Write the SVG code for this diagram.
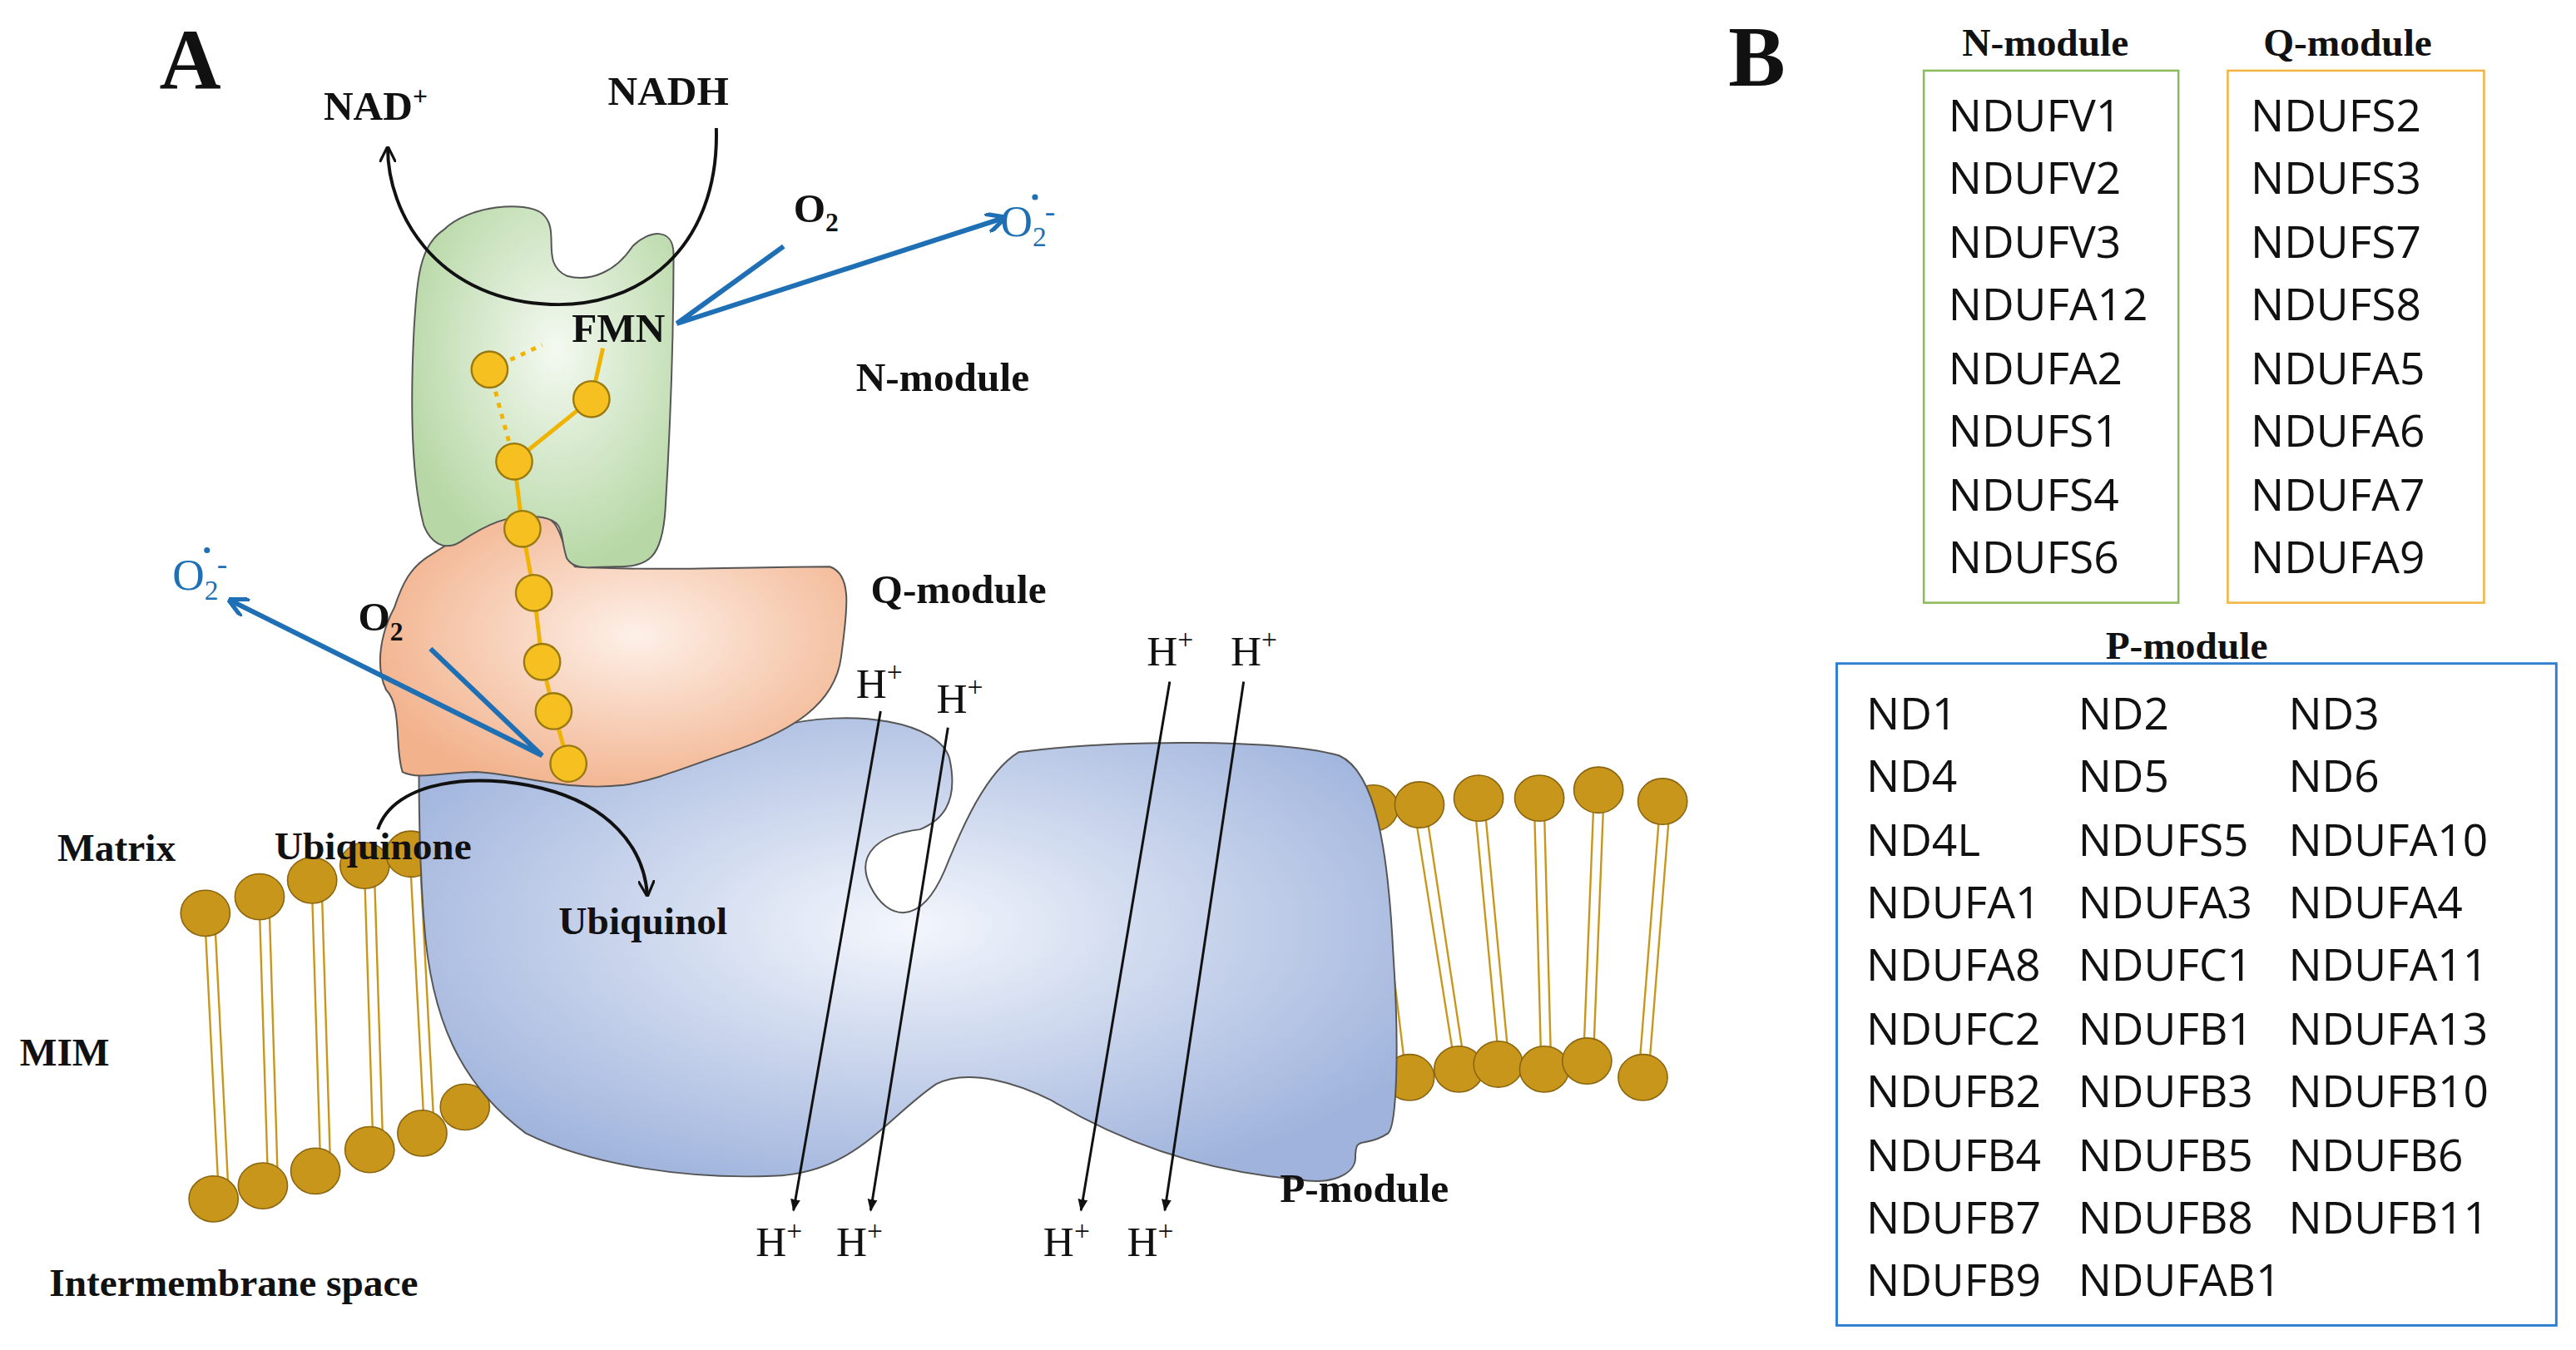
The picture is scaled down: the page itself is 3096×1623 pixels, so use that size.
<svg xmlns="http://www.w3.org/2000/svg" width="3096" height="1623" viewBox="0 0 3096 1623">
<style>
.sr{font-family:"Liberation Serif",serif;fill:#111}
.b{font-weight:bold}
.sn{font-family:"Open Sans","Liberation Sans",sans-serif;font-size:27px;fill:#111}
.bl{fill:#1f6fb5}
.head{fill:#c8961a;stroke:#8a6510;stroke-width:0.8}
.tail{stroke:#c8961a;stroke-width:1.2;fill:none}
.fe{fill:#f5c020;stroke:#9a7a10;stroke-width:1.2}
</style>
<defs>
<radialGradient id="gN" cx="0.55" cy="0.4" r="0.6"><stop offset="0" stop-color="#f4f9f1"/><stop offset="1" stop-color="#b7d8a6"/></radialGradient>
<radialGradient id="gQ" cx="0.55" cy="0.45" r="0.6"><stop offset="0" stop-color="#fdf0e8"/><stop offset="1" stop-color="#f2b28c"/></radialGradient>
<radialGradient id="gP" cx="0.5" cy="0.45" r="0.6"><stop offset="0" stop-color="#f3f6fc"/><stop offset="1" stop-color="#9fb3dc"/></radialGradient>
<marker id="ak" viewBox="0 0 10 10" refX="9" refY="5" markerWidth="5" markerHeight="5" orient="auto"><path d="M0,0 L10,5 L0,10" fill="none" stroke="#111" stroke-width="1.6"/></marker>
<marker id="af" viewBox="0 0 10 10" refX="9" refY="5" markerWidth="5" markerHeight="5" orient="auto"><path d="M0,1 L10,5 L0,9 Z" fill="#111"/></marker>
<marker id="ab" viewBox="0 0 10 10" refX="8" refY="5" markerWidth="4" markerHeight="4" orient="auto"><path d="M0,0 L10,5 L0,10" fill="none" stroke="#1f6fb5" stroke-width="2.2"/></marker>
</defs>
<rect width="3096" height="1623" fill="#fff"/>
<g transform="scale(1.9745)">
<text class="sr b" x="97" y="54" font-size="52">A</text>
<text class="sr b" x="1052" y="52" font-size="52">B</text>

<g id="membrane-left">
<g class="tail">
<path d="M125,565 L133,725 M131,565 L139,725 M158,555 L163,716 M164,555 L169,716 M190,545 L195,707 M196,545 L201,707 M222,535 L227,695 M228,535 L233,695 M250,530 L258,683 M256,530 L264,683"/>
</g>
<ellipse class="head" cx="125" cy="556" rx="15" ry="14"/><ellipse class="head" cx="158" cy="546" rx="15" ry="14"/><ellipse class="head" cx="190" cy="536" rx="15" ry="14"/><ellipse class="head" cx="222" cy="527" rx="15" ry="14"/><ellipse class="head" cx="250" cy="520" rx="15" ry="14"/>
<ellipse class="head" cx="130" cy="730" rx="15" ry="14"/><ellipse class="head" cx="160" cy="722" rx="15" ry="14"/><ellipse class="head" cx="192" cy="713" rx="15" ry="14"/><ellipse class="head" cx="225" cy="700" rx="15" ry="14"/><ellipse class="head" cx="257" cy="690" rx="15" ry="14"/><ellipse class="head" cx="283" cy="674" rx="15" ry="14"/>
</g>
<g id="membrane-right">
<g class="tail">
<path d="M837,500 L855,648 M862,500 L885,645 M869,500 L891,645 M898,494 L912,642 M904,494 L918,642 M934,494 L938,644 M940,494 L944,644 M970,490 L964,641 M976,490 L970,641 M1010,496 L998,648 M1016,496 L1004,648"/>
</g>
<ellipse class="head" cx="836" cy="492" rx="15" ry="14"/><ellipse class="head" cx="864" cy="490" rx="15" ry="14"/><ellipse class="head" cx="900" cy="486" rx="15" ry="14"/><ellipse class="head" cx="937" cy="486" rx="15" ry="14"/><ellipse class="head" cx="973" cy="481" rx="15" ry="14"/><ellipse class="head" cx="1012" cy="488" rx="15" ry="14"/>
<ellipse class="head" cx="858" cy="656" rx="15" ry="14"/><ellipse class="head" cx="888" cy="651" rx="15" ry="14"/><ellipse class="head" cx="912" cy="648" rx="15" ry="14"/><ellipse class="head" cx="940" cy="651" rx="15" ry="14"/><ellipse class="head" cx="966" cy="646" rx="15" ry="14"/><ellipse class="head" cx="1000" cy="656" rx="15" ry="14"/>
</g>

<g id="p-module">
<path d="M255,468 C300,455 420,458 470,443 C520,430 572,440 578,462 C584,490 572,500 560,505 C535,508 520,520 530,540 C540,560 560,565 575,530 C585,505 600,470 620,458 C680,450 780,450 815,460 C838,470 845,520 848,580 C852,640 850,685 845,690 C830,700 825,690 825,705 C825,715 810,722 790,718 C740,714 690,700 640,670 C620,660 590,650 570,660 C540,680 520,715 470,716 C420,718 360,710 320,690 C280,660 262,620 258,560 C255,520 255,490 255,468 Z" fill="url(#gP)" stroke="#555" stroke-width="1"/>
</g>
<g id="q-module">
<path d="M262,338 C290,320 310,310 325,312 C345,315 340,335 350,345 C400,348 460,345 505,345 C520,350 515,375 512,400 C508,430 480,445 450,456 C420,466 400,475 380,478 C345,482 320,472 290,470 C270,470 255,475 245,470 C240,455 245,430 235,420 C228,405 232,385 240,370 C245,355 250,345 262,338 Z" fill="url(#gQ)" stroke="#555" stroke-width="1"/>
</g>
<g id="n-module">
<path d="M258,320 C250,290 250,240 252,200 C254,170 255,150 270,140 C285,125 320,122 330,130 C342,140 328,160 345,168 C360,172 375,165 385,150 C395,140 410,138 410,155 C410,200 408,260 405,310 C403,340 395,345 375,345 C360,345 350,348 345,340 C340,325 345,318 330,315 C310,312 295,320 280,330 C270,336 262,330 258,320 Z" fill="url(#gN)" stroke="#555" stroke-width="1"/>
</g>

<g id="fes-chain">
<path d="M367,212 L360,243 L313,281 L318,322 L325,361 L330,403 L337,433 L346,465" stroke="#f0b400" stroke-width="2.5" fill="none"/>
<path d="M298,225 L330,210 M298,225 L313,281" stroke="#f0b400" stroke-width="2.5" stroke-dasharray="3,4" fill="none"/>
<circle class="fe" cx="298" cy="225" r="11"/><circle class="fe" cx="360" cy="243" r="11"/><circle class="fe" cx="313" cy="281" r="11"/><circle class="fe" cx="318" cy="322" r="11"/><circle class="fe" cx="325" cy="361" r="11"/><circle class="fe" cx="330" cy="403" r="11"/><circle class="fe" cx="337" cy="433" r="11"/><circle class="fe" cx="346" cy="465" r="11"/>
</g>

<g id="connectors" fill="none">
<path d="M436,78 C438,150 390,190 330,185 C265,180 236,130 236,90" stroke="#111" stroke-width="2" marker-end="url(#ak)"/>
<path d="M230,505 C240,475 290,470 330,480 C370,490 392,515 394,545" stroke="#111" stroke-width="2" marker-end="url(#ak)"/>
<path d="M477,150 L412,197 L610,133" stroke="#1f6fb5" stroke-width="3" marker-end="url(#ab)"/>
<path d="M262,395 L330,460 L141,366" stroke="#1f6fb5" stroke-width="3" marker-end="url(#ab)"/>
<g stroke="#111" stroke-width="1.5">
<path d="M536,433 L483,737" marker-end="url(#af)"/>
<path d="M577,443 L530,737" marker-end="url(#af)"/>
<path d="M712,415 L658,737" marker-end="url(#af)"/>
<path d="M757,415 L709,737" marker-end="url(#af)"/>
</g>
</g>

<g id="labels-a">
<text class="sr b" x="197" y="73" font-size="25">NAD<tspan font-size="16" dy="-9">+</tspan></text>
<text class="sr b" x="370" y="64" font-size="25">NADH</text>
<text class="sr b" x="348" y="208" font-size="25">FMN</text>
<text class="sr b" x="483" y="135" font-size="25">O<tspan font-size="16" dy="6">2</tspan></text>
<text class="sr bl" x="609" y="144" font-size="27">O<tspan font-size="17" dy="6">2</tspan><tspan font-size="19" dx="-1" dy="-15">-</tspan></text>
<circle class="bl" cx="630" cy="120" r="1.8"/>
<text class="sr b" x="218" y="384" font-size="25">O<tspan font-size="16" dy="6">2</tspan></text>
<text class="sr bl" x="105" y="359" font-size="27">O<tspan font-size="17" dy="6">2</tspan><tspan font-size="19" dx="-1" dy="-15">-</tspan></text>
<circle class="bl" cx="126" cy="335" r="1.8"/>
<text class="sr b" x="521" y="238" font-size="25">N-module</text>
<text class="sr b" x="530" y="367" font-size="25">Q-module</text>
<text class="sr b" x="779" y="732" font-size="25">P-module</text>
<text class="sr b" x="35" y="524" font-size="24">Matrix</text>
<text class="sr b" x="167" y="523" font-size="24">Ubiquinone</text>
<text class="sr b" x="340" y="569" font-size="24">Ubiquinol</text>
<text class="sr b" x="12" y="649" font-size="24">MIM</text>
<text class="sr b" x="30" y="789" font-size="24">Intermembrane space</text>
<g font-size="26">
<text class="sr" x="521" y="425">H<tspan font-size="17" dy="-10">+</tspan></text>
<text class="sr" x="570" y="434">H<tspan font-size="17" dy="-10">+</tspan></text>
<text class="sr" x="698" y="405">H<tspan font-size="17" dy="-10">+</tspan></text>
<text class="sr" x="749" y="405">H<tspan font-size="17" dy="-10">+</tspan></text>
<text class="sr" x="460" y="765">H<tspan font-size="17" dy="-10">+</tspan></text>
<text class="sr" x="509" y="765">H<tspan font-size="17" dy="-10">+</tspan></text>
<text class="sr" x="635" y="765">H<tspan font-size="17" dy="-10">+</tspan></text>
<text class="sr" x="686" y="765">H<tspan font-size="17" dy="-10">+</tspan></text>
</g>
</g>

<g id="n-box">
<text class="sr b" x="1245" y="34" font-size="24" text-anchor="middle">N-module</text>
<rect x="1171" y="43" width="155" height="324" fill="none" stroke="#8dbb5c" stroke-width="1.3"/>
<text class="sn" x="1186" y="80">NDUFV1</text><text class="sn" x="1186" y="118">NDUFV2</text><text class="sn" x="1186" y="157">NDUFV3</text><text class="sn" x="1186" y="195">NDUFA12</text><text class="sn" x="1186" y="234">NDUFA2</text><text class="sn" x="1186" y="272">NDUFS1</text><text class="sn" x="1186" y="311">NDUFS4</text><text class="sn" x="1186" y="349">NDUFS6</text>
</g>
<g id="q-box">
<text class="sr b" x="1429" y="34" font-size="24" text-anchor="middle">Q-module</text>
<rect x="1356" y="43" width="156" height="324" fill="none" stroke="#f2b445" stroke-width="1.3"/>
<text class="sn" x="1370" y="80">NDUFS2</text><text class="sn" x="1370" y="118">NDUFS3</text><text class="sn" x="1370" y="157">NDUFS7</text><text class="sn" x="1370" y="195">NDUFS8</text><text class="sn" x="1370" y="234">NDUFA5</text><text class="sn" x="1370" y="272">NDUFA6</text><text class="sn" x="1370" y="311">NDUFA7</text><text class="sn" x="1370" y="349">NDUFA9</text>
</g>
<g id="p-box">
<text class="sr b" x="1331" y="401" font-size="24" text-anchor="middle">P-module</text>
<rect x="1118" y="404" width="438" height="403" fill="none" stroke="#2f7fd0" stroke-width="1.5"/>
<g class="sn">
<text x="1136" y="444">ND1</text><text x="1265" y="444">ND2</text><text x="1393" y="444">ND3</text>
<text x="1136" y="482">ND4</text><text x="1265" y="482">ND5</text><text x="1393" y="482">ND6</text>
<text x="1136" y="521">ND4L</text><text x="1265" y="521">NDUFS5</text><text x="1393" y="521">NDUFA10</text>
<text x="1136" y="559">NDUFA1</text><text x="1265" y="559">NDUFA3</text><text x="1393" y="559">NDUFA4</text>
<text x="1136" y="597">NDUFA8</text><text x="1265" y="597">NDUFC1</text><text x="1393" y="597">NDUFA11</text>
<text x="1136" y="636">NDUFC2</text><text x="1265" y="636">NDUFB1</text><text x="1393" y="636">NDUFA13</text>
<text x="1136" y="674">NDUFB2</text><text x="1265" y="674">NDUFB3</text><text x="1393" y="674">NDUFB10</text>
<text x="1136" y="713">NDUFB4</text><text x="1265" y="713">NDUFB5</text><text x="1393" y="713">NDUFB6</text>
<text x="1136" y="751">NDUFB7</text><text x="1265" y="751">NDUFB8</text><text x="1393" y="751">NDUFB11</text>
<text x="1136" y="789">NDUFB9</text><text x="1265" y="789">NDUFAB1</text>
</g>
</g>
</g>
</svg>
